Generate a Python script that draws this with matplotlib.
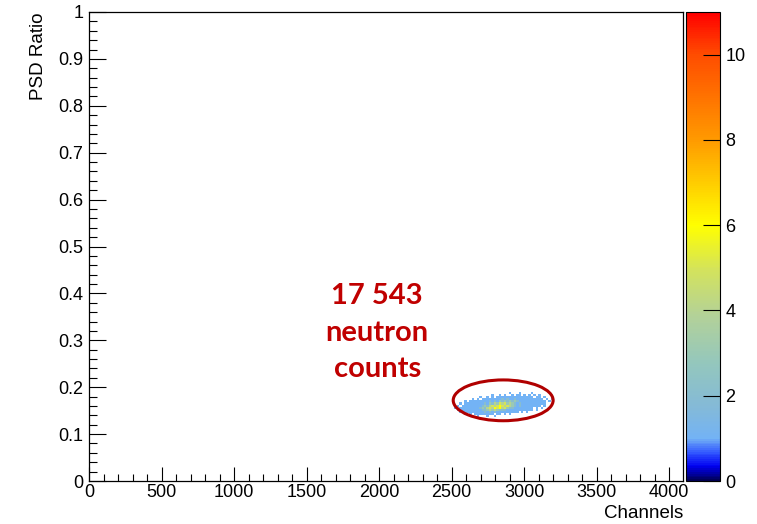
import numpy as np
import matplotlib
matplotlib.use("Agg")
import matplotlib.pyplot as plt
from matplotlib.colors import LinearSegmentedColormap
from matplotlib.patches import Ellipse

# ---------------- data ----------------
x_start = 2520.0          # first bin lower edge (channels)
x_width = 17.0            # bin width (channels)
y_start = 0.136           # first bin lower edge (PSD ratio)
y_width = 0.0045          # bin width
# counts per bin, rows from top (highest PSD) to bottom; '.' = empty
count_rows = [
    "......................1...1....1........",
    "...............1..1.1..1.11.1.1.1.1.....",
    "..........1..1.1.111111111111111.11.1..1",
    ".......1.1.1111111121211211111111111.1.1",
    "....1.1111111121213232323211111111111.1.",
    "..1.111111112132435453432121111111111...",
    ".1.11111111232454565454321211111111.1...",
    "1.111111112324546564532211111111.1.1....",
    ".1111111111223434322211111111111.1......",
    "..1.1111111121212111111111.1.1..........",
    "....1.1.11111111.11.1.1.................",
    ".........1...1..1.......................",
]
x_ticks = [0, 500, 1000, 1500, 2000, 2500, 3000, 3500, 4000]
y_ticks = [0, 0.1, 0.2, 0.3, 0.4, 0.5, 0.6, 0.7, 0.8, 0.9, 1]
z_ticks = [0, 2, 4, 6, 8, 10]
annotation = "17 543\nneutron\ncounts"

# ---------------- build histogram ----------------
ncol = 40
counts = np.array([[0 if c == '.' else int(c) for c in r.ljust(ncol, '.')[:ncol]]
                   for r in count_rows[::-1]], dtype=float)
xe = x_start + x_width * np.arange(ncol + 1)
ye = y_start + y_width * np.arange(counts.shape[0] + 1)
Z = np.ma.masked_equal(counts, 0)

cmap = LinearSegmentedColormap.from_list("rootpal", [
    (0.00, (0.00, 0.00, 0.35)),
    (0.03, (0.00, 0.00, 0.95)),
    (0.06, (0.20, 0.35, 1.00)),
    (0.09, (0.45, 0.70, 0.96)),
    (0.16, (0.52, 0.73, 0.84)),
    (0.25, (0.58, 0.78, 0.74)),
    (0.35, (0.70, 0.82, 0.60)),
    (0.45, (0.83, 0.89, 0.36)),
    (0.545, (1.00, 1.00, 0.00)),
    (0.73, (1.00, 0.60, 0.00)),
    (0.91, (1.00, 0.30, 0.00)),
    (1.00, (1.00, 0.00, 0.00)),
])

plt.rcParams['font.family'] = ['Liberation Sans', 'DejaVu Sans']
W, H = 757, 524
fig = plt.figure(figsize=(W / 100, H / 100), dpi=100)
ax = fig.add_axes([89 / W, 43 / H, (683 - 89) / W, (481 - 12) / H])
mesh = ax.pcolormesh(xe, ye, Z, cmap=cmap, vmin=0, vmax=11)

FS = 13
ax.set_xlim(0, 4096)
ax.set_ylim(0, 1)
ax.set_xticks(x_ticks)
ax.set_xticklabels([str(v) for v in x_ticks])
ax.set_yticks(y_ticks)
ax.set_yticklabels([f"{v:g}" for v in y_ticks])
ax.set_xticks(np.arange(0, 4097, 100), minor=True)
ax.set_yticks(np.arange(0, 1.001, 0.02), minor=True)
ax.tick_params(axis='x', which='major', direction='in', length=10, width=0.8, labelsize=FS, pad=2)
ax.tick_params(axis='x', which='minor', direction='in', length=5, width=0.8)
ax.tick_params(axis='y', which='major', direction='in', length=12.5, width=0.8, labelsize=FS, pad=4)
ax.tick_params(axis='y', which='minor', direction='in', length=6, width=0.8)
for s in ax.spines.values():
    s.set_linewidth(0.9)

ax.set_xlabel("Channels", fontsize=FS + 0.5, loc='right', labelpad=3)
ax.set_ylabel("PSD Ratio", fontsize=FS + 0.5, loc='top', labelpad=8)

ax.text(1988, 0.316, annotation, ha='center', va='center', fontsize=21,
        fontweight='bold', color='#C00000', family=['Lato', 'DejaVu Sans'],
        linespacing=1.5)
ax.add_patch(Ellipse((2856, 0.172), 689, 0.087, fill=False,
                     edgecolor='#B00000', linewidth=2.2))

cax = fig.add_axes([686 / W, 43 / H, 34 / W, (481 - 12) / H])
cb = fig.colorbar(mesh, cax=cax)
cb.set_ticks(z_ticks)
cb.ax.tick_params(direction='in', length=12.5, width=0.8, labelsize=FS, pad=4)
cb.outline.set_linewidth(0.8)

fig.savefig("out.png", dpi=100, facecolor='white')
